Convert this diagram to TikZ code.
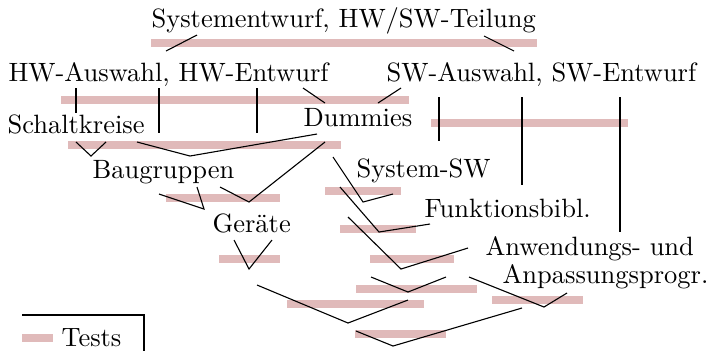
\documentclass[tikz,border=0pt]{standalone}
\definecolor{testpink}{RGB}{224,186,186}
\begin{document}
\begin{tikzpicture}[x=0.3636pt,y=-0.3636pt,
  task/.style={anchor=base west,inner sep=0pt,font=\fontsize{9.63}{11.5}\selectfont},
  testbar/.style={draw=testpink,line width=2.9pt},
  link/.style={line width=0.4pt}]
\useasboundingbox (0,0) rectangle (706,350);
\clip (0,0) rectangle (706,350);

% test phases (drawn first, below the links)
\draw[testbar] (151,43) -- (537,43);
\draw[testbar] (61,100) -- (409,100);
\draw[testbar] (431,123) -- (628,123);
\draw[testbar] (68,145) -- (341,145);
\draw[testbar] (166,198) -- (280,198);
\draw[testbar] (325,191) -- (401,191);
\draw[testbar] (219,259) -- (280,259);
\draw[testbar] (340,229) -- (416,229);
\draw[testbar] (370,259) -- (454,259);
\draw[testbar] (356,289) -- (477,289);
\draw[testbar] (287,304) -- (424,304);
\draw[testbar] (492,300) -- (583,300);
\draw[testbar] (355,334) -- (446,334);
\draw[testbar] (22,338) -- (53,338);

% tasks
\node[task] (sys)  at (151,27)  {Systementwurf, HW/SW-Teilung};
\node[task] (hw)   at (8,81)    {HW-Auswahl, HW-Entwurf};
\node[task] (sw)   at (386,81)  {SW-Auswahl, SW-Entwurf};
\node[task] (sk)   at (7,133)   {Schaltkreise};
\node[task] (dum)  at (303,126) {Dummies};
\node[task] (bg)   at (92,178)  {Baugruppen};
\node[task] (sysw) at (356,177) {System-SW};
\node[task] (ger)  at (212,232) {Geräte};
\node[task] (fkt)  at (424,217) {Funktionsbibl.};
\node[task] (anw)  at (485,255) {Anwendungs- und};
\node[task] (anp)  at (502,283) {Anpassungsprogr.};
\node[task] (tests) at (61,346) {Tests};

% dependencies
\draw[link] (197,35) -- (166,51);
\draw[link] (484,36) -- (514,51);
\draw[link] (76,88) -- (76,113);
\draw[link] (159,88) -- (159,133);
\draw[link] (257,88) -- (257,133);
\draw[link] (303,88) -- (325,103);
\draw[link] (401,88) -- (378,103);
\draw[link] (439,97) -- (439,141);
\draw[link] (522,97) -- (522,185);
\draw[link] (620,97) -- (620,232);
\draw[link] (76,142) -- (91,156) -- (106,142);
\draw[link] (137,142) -- (190,156) -- (317,134);
\draw[link] (220,187) -- (249,202) -- (325,142);
\draw[link] (333,157) -- (363,202) -- (393,194);
\draw[link] (159,194) -- (204,209) -- (197,187);
\draw[link] (234,240) -- (249,269) -- (272,240);
\draw[link] (340,187) -- (379,232) -- (430,224);
\draw[link] (348,217) -- (401,269) -- (468,248);
\draw[link] (371,277) -- (408,292) -- (446,277);
\draw[link] (469,277) -- (544,307) -- (567,293);
\draw[link] (257,285) -- (348,323) -- (408,300);
\draw[link] (356,331) -- (393,346) -- (522,308);

% legend frame
\draw[link] (22,315) -- (144,315) -- (144,360);
\end{tikzpicture}
\end{document}
